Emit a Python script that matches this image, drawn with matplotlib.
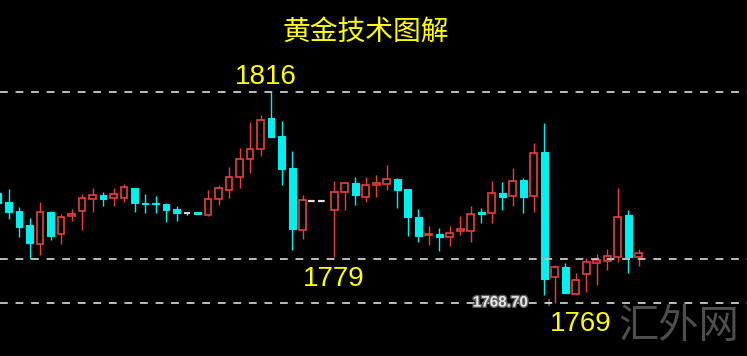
import numpy as np
import matplotlib.pyplot as plt
import matplotlib.patheffects as pe

# gold candles (two flat bars in the gap)
opens = [1793.4, 1791.3, 1789.3, 1786.2, 1781.9, 1789.1, 1784.2, 1788.2, 1789.3, 1792.0,
         1792.9, 1792.2, 1792.2, 1794.5, 1791.1, 1791.1, 1790.9, 1789.8, 1788.9, 1789.1,
         1788.4, 1792.0, 1794.0, 1797.0, 1801.0, 1803.3, 1810.2, 1806.2, 1799.0, 1785.1,
         1791.6, 1791.6,
         1789.6, 1793.6, 1795.6, 1792.5, 1795.2, 1795.4, 1796.5, 1794.3, 1788.0, 1783.9,
         1784.2, 1783.5, 1784.8, 1784.8, 1789.1, 1788.9, 1793.4, 1792.7, 1796.3, 1792.7,
         1802.6, 1774.5, 1776.7, 1770.7, 1775.2, 1777.6, 1778.1, 1779.0, 1788.4, 1779.0]
highs = [1794.5, 1794.3, 1790.2, 1787.8, 1791.3, 1789.3, 1788.7, 1789.8, 1793.1, 1794.5,
         1793.6, 1794.5, 1795.4, 1794.5, 1793.1, 1792.7, 1791.1, 1790.4, 1789.1, 1789.1,
         1794.0, 1795.2, 1799.2, 1803.5, 1809.3, 1810.9, 1816.0, 1809.5, 1802.8, 1792.9,
         1791.6, 1791.6,
         1796.1, 1795.8, 1797.0, 1797.0, 1797.4, 1799.7, 1796.6, 1794.3, 1789.8, 1786.0,
         1785.5, 1786.0, 1788.2, 1790.4, 1790.0, 1796.1, 1795.8, 1799.0, 1796.7, 1804.6,
         1809.1, 1777.2, 1777.6, 1775.4, 1778.8, 1779.7, 1780.8, 1794.5, 1789.6, 1780.8]
lows = [1790.0, 1787.5, 1783.5, 1778.5, 1779.4, 1782.8, 1781.9, 1787.1, 1785.1, 1789.1,
        1790.4, 1790.4, 1791.3, 1789.1, 1788.9, 1788.9, 1786.9, 1787.1, 1788.4, 1788.7,
        1788.2, 1790.7, 1792.2, 1794.5, 1797.9, 1801.7, 1806.0, 1795.2, 1780.6, 1783.0,
        1791.6, 1791.6,
        1779.0, 1789.6, 1790.7, 1791.3, 1792.5, 1794.0, 1790.0, 1783.7, 1782.4, 1781.7,
        1780.3, 1781.5, 1783.9, 1782.4, 1786.6, 1786.6, 1789.6, 1790.4, 1788.9, 1789.1,
        1770.4, 1768.7, 1770.9, 1770.4, 1771.1, 1772.7, 1776.1, 1777.9, 1775.4, 1777.0]
closes = [1791.1, 1789.1, 1785.7, 1782.1, 1789.1, 1783.7, 1788.0, 1788.7, 1792.2, 1792.9,
          1792.0, 1793.1, 1794.7, 1791.1, 1790.9, 1790.9, 1789.6, 1788.9, 1788.9, 1788.7,
          1792.0, 1794.5, 1797.0, 1801.0, 1803.3, 1809.8, 1806.0, 1798.8, 1785.3, 1791.8,
          1791.6, 1791.6,
          1793.6, 1795.6, 1792.9, 1795.2, 1795.6, 1796.5, 1794.0, 1788.0, 1783.7, 1784.2,
          1783.5, 1784.4, 1785.3, 1788.7, 1788.7, 1793.4, 1792.5, 1796.1, 1792.5, 1802.4,
          1774.0, 1776.7, 1770.9, 1773.8, 1777.9, 1778.3, 1779.2, 1788.0, 1779.0, 1779.9]

levels = [1816, 1778.5, 1768.7]
level_labels = ['1816', '1779', '1769']
last_low = 1768.70
title = '黄金技术图解'
watermark = '汇外网'

UP = '#e8403a'
DOWN = '#00f0f0'

fig = plt.figure(figsize=(7.47, 3.56), dpi=100)
fig.patch.set_facecolor('black')
ax = fig.add_axes([0, 0, 1, 1])
ax.set_facecolor('black')

x = np.arange(len(opens))
w = 0.64
for i in x:
    o, h, l, c = opens[i], highs[i], lows[i], closes[i]
    if h == l:
        # flat bar, no trading
        ax.hlines(o, i - 0.5, i + 0.5, color='#e0e0e0', lw=1.6, linestyles=(0, (3, 2.5)))
        continue
    if c > o:
        col = UP
        ax.vlines(i, l, o, color=col, lw=1.0)
        ax.vlines(i, c, h, color=col, lw=1.0)
        ax.add_patch(plt.Rectangle((i - w / 2, o), w, c - o, facecolor='black',
                                   edgecolor=col, lw=1.2))
    elif c < o:
        col = DOWN
        ax.vlines(i, l, h, color=col, lw=1.0)
        ax.add_patch(plt.Rectangle((i - w / 2, c), w, o - c, facecolor=col,
                                   edgecolor=col, lw=0.8))
    else:
        ax.vlines(i, l, h, color='#d8d8d8', lw=1.0)
        ax.hlines(o, i - w / 2, i + w / 2, color='#d8d8d8', lw=1.4)

for lv in levels:
    ax.axhline(lv, color='#bdbdbd', lw=1.4, linestyle=(0, (4, 4)))

cn = ['Noto Sans CJK SC', 'DejaVu Sans']
num = ['Liberation Sans', 'DejaVu Sans']
ax.text(35.0, 1829.6, title, color='#ffff00', fontsize=20, family=cn,
        ha='center', va='center')
ax.text(25.5, levels[0] + 3.4, level_labels[0], color='#ffff00', fontsize=20,
        family=num, ha='center', va='center')
ax.text(32.0, levels[1] - 4.4, level_labels[1], color='#ffff00', fontsize=20,
        family=num, ha='center', va='center')
ax.text(55.5, levels[2] - 4.7, level_labels[2], color='#ffff00', fontsize=20,
        family=num, ha='center', va='center')
ax.text(47.8, last_low, f'{last_low:.2f}', color='#e6e6e6', fontsize=11,
        fontweight='bold', family=num, ha='center', va='center',
        path_effects=[pe.withStroke(linewidth=2, foreground='#5a5a5a')])
ax.text(52.4, last_low, '+', color='#dcdcdc', fontsize=7, ha='center', va='center')
ax.text(64.8, 1763.3, watermark, color='#4e4e4e', fontsize=29, family=cn,
        ha='center', va='center')

ax.set_xlim(0.19, 71.3)
ax.set_ylim(1756.7, 1836.7)
ax.axis('off')

fig.savefig('out.png', dpi=100, facecolor='black')
